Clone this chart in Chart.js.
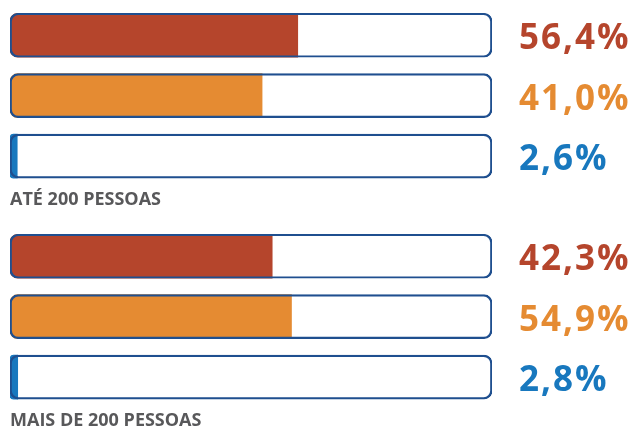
<!DOCTYPE html>
<html lang="pt">
<head>
<meta charset="utf-8">
<title>Pessoas</title>
<script src="https://cdn.jsdelivr.net/npm/chart.js@4.4.1/dist/chart.umd.min.js"></script>
<style>
    html, body { margin: 0; padding: 0; background: #fff; overflow: hidden; }
    .bloco { position: absolute; left: 0; width: 633px; height: 214px; }
    #bloco1 { top: 0; }
    #bloco2 { top: 221px; }
</style>
</head>
<body>
<div class="bloco" id="bloco1"><canvas id="grafico1"></canvas></div>
<div class="bloco" id="bloco2"><canvas id="grafico2"></canvas></div>
<script>
// Categorias (uma por barra) e cores
const categorias = ['A', 'B', 'C'];
const cores = ['#b5452c', '#e58b32', '#1878be'];

// Rótulos impressos à direita
const rotulos1 = ['56,4%', '41,0%', '2,6%'];
const rotulos2 = ['42,3%', '54,9%', '2,8%'];

// Comprimento das barras tal como desenhado (% da calha)
const barras1 = [59.7, 52.3, 1.5];
const barras2 = [54.4, 58.4, 1.6];

// Calha de fundo (100%)
const calha = [100, 100, 100];

const titulos = ['ATÉ 200 PESSOAS', 'MAIS DE 200 PESSOAS'];

// plugin : rótulos de percentagem à direita
const rotulosPlugin = {
    id: 'rotulos',
    afterDatasetsDraw(chart, args, opts) {
        const { ctx, chartArea, scales } = chart;
        ctx.save();
        ctx.font = 'bold 35px "Open Sans", "Noto Sans", sans-serif';
        ctx.letterSpacing = '2px';
        ctx.textAlign = 'left';
        ctx.textBaseline = 'alphabetic';
        opts.textos.forEach((t, i) => {
            ctx.fillStyle = cores[i];
            ctx.fillText(t, chartArea.right + 27, scales.y.getPixelForValue(i) + 14);
        });
        ctx.restore();
    }
};

function criarGrafico(id, barras, rotulos, titulo) {
    const ctx = document.getElementById(id).getContext('2d');
    return new Chart(ctx, {
        type: 'bar',
        data: {
            labels: categorias,
            datasets: [{
                label: 'calha',
                data: calha,
                backgroundColor: 'rgba(0,0,0,0)',
                borderColor: '#1f4f8f',
                borderWidth: 1.5,
                borderRadius: 8,
                borderSkipped: false,
                order: 0
            }, {
                label: 'valor',
                data: barras,
                backgroundColor: cores,
                borderWidth: 0,
                borderRadius: { topLeft: 8, bottomLeft: 8, topRight: 0, bottomRight: 0 },
                borderSkipped: false,
                order: 1
            }]
        },
        options: {
            indexAxis: 'y',
            responsive: true,
            maintainAspectRatio: false,
            animation: false,
            layout: { padding: { left: 10, right: 141, top: 5, bottom: 0 } },
            datasets: { bar: { barThickness: 44, grouped: false } },
            plugins: {
                legend: { display: false },
                tooltip: { enabled: false },
                title: {
                    display: true,
                    text: titulo,
                    position: 'bottom',
                    align: 'start',
                    color: '#58585a',
                    font: { family: '"Open Sans", "Noto Sans", sans-serif', size: 18, weight: 'bold', lineHeight: 1.15 },
                    padding: { top: 3, bottom: 4 }
                },
                rotulos: { textos: rotulos }
            },
            scales: {
                x: { display: false, min: 0, max: 100 },
                y: { display: false }
            }
        },
        plugins: [rotulosPlugin]
    });
}

criarGrafico('grafico1', barras1, rotulos1, titulos[0]);
criarGrafico('grafico2', barras2, rotulos2, titulos[1]);
</script>
</body>
</html>
